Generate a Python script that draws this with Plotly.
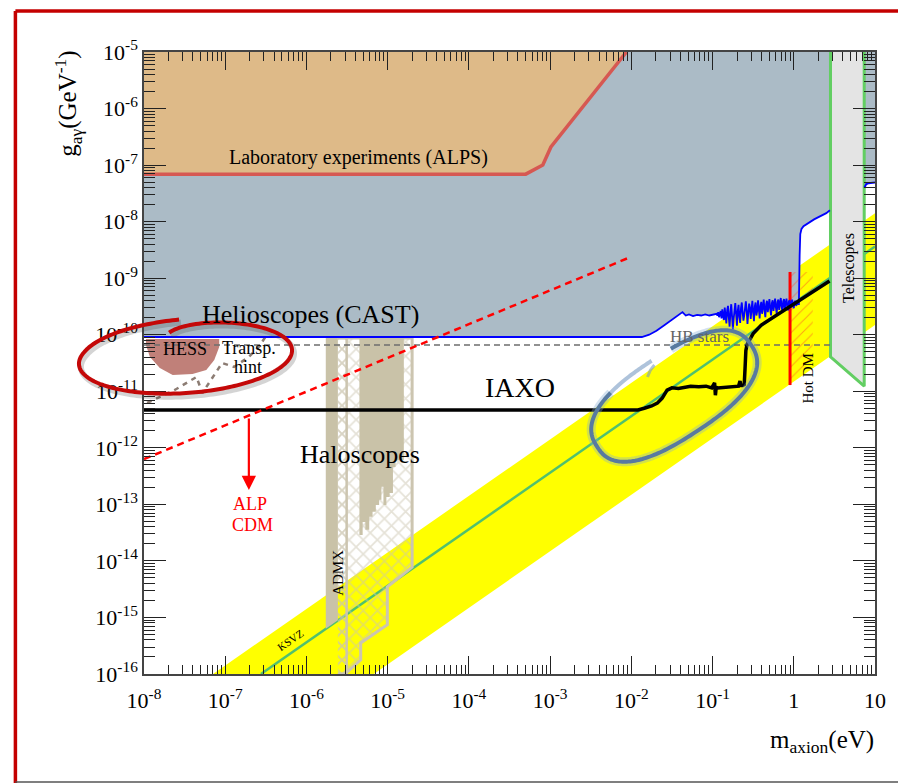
import numpy as np
import plotly.graph_objects as go

# ---------------- figure geometry ----------------
FIG_W, FIG_H = 898, 783
M_L, M_R, M_T, M_B = 144, 15, 52, 109
PLOT_W = FIG_W - M_L - M_R
PLOT_H = FIG_H - M_T - M_B
SERIF = "Liberation Serif, Times New Roman, serif"

# ---------------- data: log10(m_axion / eV), log10(g_ay / GeV^-1) ----------------
alps_logm = [-8.0, -3.30, -3.09, -2.99, -2.06]
alps_logg = [-7.16, -7.16, -7.00, -6.68, -5.00]

# CAST limit: flat part, turn-up, noisy gas phase, steep rise
cast_logm = [-8.0, -1.87, -1.78, -1.69, -1.59, -1.47, -1.40, -1.37, -1.33, -1.29, -1.24, -1.19,
             -1.14, -1.09, -1.04, -0.99,
             -0.95, -0.94, -0.93, -0.92, -0.91, -0.90, -0.89, -0.88, -0.87, -0.86,
             -0.85, -0.84, -0.83, -0.82, -0.81, -0.80, -0.79, -0.78, -0.77, -0.76,
             -0.75, -0.74, -0.73, -0.72, -0.71, -0.70, -0.69, -0.68, -0.67, -0.66,
             -0.65, -0.64, -0.63, -0.62, -0.61, -0.60, -0.59, -0.58, -0.57, -0.56,
             -0.55, -0.54, -0.53, -0.52, -0.51, -0.50, -0.49, -0.48, -0.47, -0.46,
             -0.45, -0.44, -0.43, -0.42, -0.41, -0.40, -0.39, -0.38, -0.37, -0.36,
             -0.35, -0.34, -0.33, -0.32, -0.31, -0.30, -0.29, -0.28, -0.27, -0.26,
             -0.25, -0.24, -0.23, -0.22, -0.21, -0.20, -0.19, -0.18, -0.17, -0.16,
             -0.15, -0.14, -0.13, -0.12, -0.11, -0.10, -0.09, -0.08, -0.07, -0.06,
             -0.05, -0.04, -0.03, -0.02, -0.01, 0.00, 0.01, 0.02, 0.03, 0.04,
             0.05, 0.063,
             0.072, 0.080, 0.095, 0.12, 0.25, 0.40, 0.445]
cast_logg = [-10.04, -10.04, -10.00, -9.93, -9.83, -9.70, -9.63, -9.60, -9.66, -9.64, -9.67, -9.65,
             -9.66, -9.64, -9.66, -9.65,
             -9.63, -9.66, -9.60, -9.69, -9.62, -9.58, -9.71, -9.55, -9.66, -9.74,
             -9.52, -9.63, -9.80, -9.57, -9.49, -9.70, -9.86, -9.60, -9.46, -9.67,
             -9.91, -9.72, -9.50, -9.44, -9.63, -9.84, -9.58, -9.47, -9.69, -9.79,
             -9.53, -9.43, -9.60, -9.75, -9.66, -9.48, -9.41, -9.58, -9.81, -9.62,
             -9.45, -9.52, -9.72, -9.55, -9.40, -9.61, -9.76, -9.50, -9.43, -9.66,
             -9.58, -9.39, -9.54, -9.71, -9.49, -9.42, -9.63, -9.52, -9.38, -9.57,
             -9.69, -9.46, -9.40, -9.60, -9.50, -9.37, -9.55, -9.66, -9.44, -9.39,
             -9.58, -9.47, -9.36, -9.52, -9.63, -9.42, -9.38, -9.56, -9.45, -9.35,
             -9.50, -9.60, -9.41, -9.37, -9.54, -9.44, -9.36, -9.49, -9.57, -9.41,
             -9.39, -9.52, -9.44, -9.38, -9.48, -9.53, -9.42, -9.40, -9.49, -9.44,
             -9.46, -9.46,
             -8.60, -8.22, -8.13, -8.08, -7.96, -7.85, -7.80]

cast_hi_logm = [0.87, 0.89, 0.92, 1.0]
cast_hi_logg = [-7.40, -7.34, -7.32, -7.31]

iaxo_logm = [-8.0, -1.92, -1.84, -1.75, -1.68, -1.62, -1.56, -1.50, -1.42, -1.35, -1.27, -1.17,
             -1.08, -1.01, -0.975, -0.965, -0.955, -0.935, -0.80, -0.68, -0.662, -0.65, -0.63,
             -0.61, -0.60, -0.59, -0.575, -0.55, -0.50, -0.40, -0.25, -0.10, 0.05, 0.23, 0.44]
iaxo_logg = [-11.33, -11.33, -11.30, -11.26, -11.21, -11.12, -10.98, -10.94, -10.95, -10.93,
             -10.91, -10.92, -10.91, -10.94, -10.85, -11.07, -10.93, -10.94, -10.92, -10.91,
             -10.82, -10.90, -10.90, -10.88, -10.60, -10.28, -10.17, -10.10, -9.98, -9.83,
             -9.69, -9.55, -9.42, -9.26, -9.05]

alp_cdm_logm = [-8.0, -2.0]
alp_cdm_logg = [-12.20, -8.62]

hb_logm = [-8.0, 0.452]
hb_logg = [-10.18, -10.18]

telescope_logm = [0.452, 0.452, 0.867, 0.867]
telescope_logg = [-5.0, -10.39, -10.91, -5.0]

hotdm_logm = [-0.046, -0.046]
hotdm_logg = [-8.89, -10.89]
hotdm_hatch_logm = [-0.046, 0.234, 0.234, -0.046]
hotdm_hatch_logg = [-8.89, -8.89, -10.45, -10.89]

band_logm = [-7.15, 1.0, 1.0, -5.17]
band_logg = [-16.0, -7.85, -9.83, -16.0]

ksvz_logm = [-6.56, 1.0]
ksvz_logg = [-16.0, -8.44]

hess_logm = [-7.976, -7.074, -7.074, -7.135, -7.233, -7.403, -7.647, -7.805, -7.927, -7.976]
hess_logg = [-10.075, -10.075, -10.217, -10.446, -10.623, -10.694, -10.712, -10.588, -10.393, -10.181]

hint_logm = [-7.963, -7.622, -7.354, -7.281, -7.160, -7.038, -6.892, -6.709, -6.587, -6.490]
hint_logg = [-11.207, -10.977, -10.747, -11.030, -10.765, -10.500, -10.570, -10.393, -10.217, -10.004]

admx_logm = [-5.762, -5.613, -5.613, -5.762]
admx_logg = [-10.06, -10.06, -15.05, -15.20]

halo_wide_logm = [-5.613, -4.699, -4.699, -5.004, -5.004, -5.332, -5.332, -5.527, -5.613]
halo_wide_logg = [-10.06, -10.06, -14.11, -14.46, -15.13, -15.45, -15.75, -16.0, -16.0]

halo_narrow_logm = [-5.613, -5.505, -5.505, -5.613]
halo_narrow_logg = [-10.06, -10.06, -16.0, -16.0]

halo_top_logg = -10.06
halo_edges_logm = [-5.348, -5.308, -5.275, -5.227, -5.186, -5.146, -5.105, -5.077, -5.052,
                   -5.016, -4.976, -4.935, -4.903, -4.801]
halo_floor_logg = [-13.54, -13.31, -13.45, -13.22, -13.13, -13.01, -12.92, -12.69, -13.01,
                   -12.87, -12.80, -12.34, -12.22]

x_tick_exp = list(range(-8, 2))
x_tick_text = ["10<sup>-8</sup>", "10<sup>-7</sup>", "10<sup>-6</sup>", "10<sup>-5</sup>",
               "10<sup>-4</sup>", "10<sup>-3</sup>", "10<sup>-2</sup>", "10<sup>-1</sup>", "1", "10"]
y_tick_exp = list(range(-16, -4))
y_tick_text = ["10<sup>%d</sup>" % e for e in y_tick_exp]

# ---------------- colours ----------------
TAN = "rgb(222,186,136)"
SLATE = "rgb(171,187,198)"
ALPS_EDGE = "rgb(214,88,82)"
HALO = "rgb(201,194,168)"
HALO_EDGE = "rgb(204,197,176)"
TEL_FILL = "rgb(228,228,228)"
TEL_EDGE = "rgb(98,206,98)"
KSVZ_GREEN = "rgb(80,192,110)"
HESS_FILL = "rgb(192,128,121)"
HINT = "rgb(140,124,115)"

fig = go.Figure()


def lin(v):
    return 10 ** np.asarray(v, dtype=float)


def area(logm, logg, color, line=None, pattern=None):
    kw = dict(x=lin(logm), y=lin(logg), mode="lines", fill="toself",
              fillcolor=color, hoverinfo="skip", showlegend=False)
    kw["line"] = line if line else dict(width=0)
    if pattern:
        kw["fillpattern"] = pattern
    fig.add_trace(go.Scatter(**kw))


def curve(logm, logg, color, width, dash="solid"):
    fig.add_trace(go.Scatter(x=lin(logm), y=lin(logg), mode="lines",
                             line=dict(color=color, width=width, dash=dash),
                             hoverinfo="skip", showlegend=False))


# axion model band and KSVZ line
area(band_logm, band_logg, "rgb(255,255,0)")
curve(ksvz_logm, ksvz_logg, KSVZ_GREEN, 2.5)

# haloscopes
hatch = dict(shape="x", fgcolor=HALO_EDGE, size=10, solidity=0.32)
area(halo_wide_logm, halo_wide_logg, "rgba(0,0,0,0)",
     line=dict(color=HALO_EDGE, width=3), pattern=hatch)
area(halo_narrow_logm, halo_narrow_logg, "rgba(0,0,0,0)",
     line=dict(color=HALO_EDGE, width=2.5), pattern=hatch)

solid_m = [halo_edges_logm[0]]
solid_g = [halo_top_logg]
for i, floor in enumerate(halo_floor_logg):
    solid_m += [halo_edges_logm[i], halo_edges_logm[i + 1]]
    solid_g += [floor, floor]
solid_m.append(halo_edges_logm[-1])
solid_g.append(halo_top_logg)
area(solid_m, solid_g, HALO)
area(admx_logm, admx_logg, HALO)

# helioscope (CAST) excluded region
area([-8.0] + cast_logm + [0.452, -8.0], [-5.0] + cast_logg + [-5.0, -5.0], SLATE)
area(cast_hi_logm + [1.0, 0.87], cast_hi_logg + [-5.0, -5.0], SLATE)

# laboratory experiments (ALPS)
area(alps_logm + [-8.0], alps_logg + [-5.0], TAN)
curve(alps_logm, alps_logg, ALPS_EDGE, 3.5)

# telescopes
area(telescope_logm, telescope_logg, TEL_FILL, line=dict(color=TEL_EDGE, width=3))

# HESS and transparency hint
area(hess_logm, hess_logg, HESS_FILL)
curve(hb_logm, hb_logg, "rgb(110,110,110)", 1.5, dash="6px,4px")
curve(hint_logm, hint_logg, HINT, 2.5, dash="5px,5px")

# hot dark matter
area(hotdm_hatch_logm, hotdm_hatch_logg, "rgba(0,0,0,0)",
     pattern=dict(shape="/", fgcolor="rgb(255,70,40)", size=8, solidity=0.12))
curve(hotdm_logm, hotdm_logg, "rgb(255,0,0)", 3)

# CAST limit, IAXO prospects, ALP cold dark matter line
curve(cast_logm, cast_logg, "rgb(0,0,255)", 1.8)
curve(cast_hi_logm, cast_hi_logg, "rgb(0,0,255)", 2)
curve(iaxo_logm, iaxo_logg, "black", 3.5)
curve(alp_cdm_logm, alp_cdm_logg, "rgb(255,0,0)", 2.5, dash="7px,5px")

# ---------------- axes ----------------
minor_vals = [k * 10.0 ** e for e in range(-16, 1) for k in range(2, 10)]
axis_common = dict(type="log", showgrid=False, zeroline=False, showline=True,
                   linecolor="#444", linewidth=1.5, mirror="allticks", ticks="inside",
                   tickcolor="#222", tickwidth=1.2,
                   tickfont=dict(family=SERIF, size=22, color="black"))
fig.update_xaxes(range=[-8, 1], tickmode="array", tickvals=[10.0 ** e for e in x_tick_exp],
                 ticktext=x_tick_text, ticklen=18, ticklabelstandoff=6,
                 minor=dict(tickmode="array", tickvals=[v for v in minor_vals if 1e-8 < v < 10],
                            ticks="inside", ticklen=9, tickcolor="#222", showgrid=False),
                 **axis_common)
fig.update_yaxes(range=[-16, -5], tickmode="array", tickvals=[10.0 ** e for e in y_tick_exp],
                 ticktext=y_tick_text, ticklen=22,
                 minor=dict(tickmode="array", tickvals=[v for v in minor_vals if 1e-16 < v < 1e-5],
                            ticks="inside", ticklen=11, tickcolor="#222", showgrid=False),
                 **axis_common)


# ---------------- highlight strokes and frame (layout pixels -> paper) ----------------
def to_paper(px, py):
    return (px - M_L) / PLOT_W, (FIG_H - M_B - py) / PLOT_H


def path_from(pts):
    out = []
    for i, (px, py) in enumerate(pts):
        x, y = to_paper(px, py)
        out.append(("M" if i == 0 else "L") + "%.5f,%.5f" % (x, y))
    return " ".join(out)


shapes = []

# red hand-drawn loop
t_deg = np.linspace(-101, 268, 220)
t = np.radians(t_deg)
r = 1.0 - 0.28 * np.exp(-(t_deg + 101) / 18.0) + 0.05 * np.clip((t_deg - 200) / 68.0, 0, None)
ex, ey = 108 * r * np.cos(t), 36 * r * np.sin(t)
phi = np.radians(-4)
red_pts = [(186 + x * np.cos(phi) - y * np.sin(phi), 357 + x * np.sin(phi) + y * np.cos(phi))
           for x, y in zip(ex, ey)]
shapes.append(dict(type="path", xref="paper", yref="paper", layer="above",
                   path=path_from([(x + 2, y + 3) for x, y in red_pts]),
                   line=dict(color="rgba(60,60,60,0.22)", width=6)))
shapes.append(dict(type="path", xref="paper", yref="paper", layer="above",
                   path=path_from(red_pts), line=dict(color="rgb(196,8,8)", width=4)))


# blue-grey hand-drawn loop
def superellipse(t_deg, a=93, b=42, n=2.5, cx=680, cy=396, theta=-33):
    tt = np.radians(t_deg)
    c, s = np.cos(tt), np.sin(tt)
    u = a * np.sign(c) * np.abs(c) ** (2 / n)
    v = b * np.sign(s) * np.abs(s) ** (2 / n)
    th = np.radians(theta)
    return [(cx + ui * np.cos(th) - vi * np.sin(th), cy + ui * np.sin(th) + vi * np.cos(th))
            for ui, vi in zip(u, v)]


dark = superellipse(np.linspace(-80, 241, 200))
light = superellipse(np.linspace(241, 270, 40))
shapes.append(dict(type="path", xref="paper", yref="paper", layer="above",
                   path=path_from(dark), line=dict(color="rgba(130,170,210,0.35)", width=9)))
shapes.append(dict(type="path", xref="paper", yref="paper", layer="above",
                   path=path_from(dark), line=dict(color="rgb(88,122,160)", width=4)))
shapes.append(dict(type="path", xref="paper", yref="paper", layer="above",
                   path=path_from(light), line=dict(color="rgba(120,155,195,0.6)", width=4)))
shapes.append(dict(type="path", xref="paper", yref="paper", layer="above",
                   path=path_from([(653, 377), (656, 370), (660, 365)]),
                   line=dict(color="rgba(120,155,195,0.6)", width=3)))

# outer frame
x0, y0 = to_paper(14, 11)
x1, y1 = to_paper(FIG_W + 10, 782)
shapes.append(dict(type="line", xref="paper", yref="paper", x0=x0, x1=x0, y0=y1 - 0.01, y1=y0,
                   line=dict(color="rgb(196,0,0)", width=3.5)))
shapes.append(dict(type="line", xref="paper", yref="paper", x0=x0, x1=x1, y0=y0, y1=y0,
                   line=dict(color="rgb(196,0,0)", width=3.5)))
shapes.append(dict(type="line", xref="paper", yref="paper", x0=x0, x1=x1, y0=y1, y1=y1,
                   line=dict(color="#555", width=1.5)))


# ---------------- text ----------------
def label(logm, logg, text, size, color="black", angle=0, **kw):
    return dict(x=logm, y=logg, xref="x", yref="y", text=text, showarrow=False,
                textangle=angle, xanchor="center", yanchor="middle",
                font=dict(family=SERIF, size=size, color=color), **kw)


annotations = [
    label(-5.357, -6.857, "Laboratory experiments (ALPS)", 20),
    label(-5.954, -9.651, "Helioscopes (CAST)", 26),
    label(-3.372, -10.942, "IAXO", 28),
    label(-5.345, -12.126, "Haloscopes", 26),
    label(-7.501, -10.252, "HESS", 18),
    label(-6.709, -10.240, "Transp.", 18),
    label(-6.720, -10.575, "hint", 18),
    label(-1.155, -10.04, "HB stars", 17, color="rgb(100,100,100)"),
    label(0.68, -8.82, "Telescopes", 16, angle=-90),
    label(0.17, -10.782, "Hot DM", 15, angle=-90),
    label(-5.613, -14.213, "ADMX", 15, angle=-90),
    label(-6.197, -15.40, "KSVZ", 11, angle=-34.6),
    label(-6.697, -13.00, "ALP", 18, color="rgb(255,0,0)"),
    label(-6.660, -13.36, "CDM", 18, color="rgb(255,0,0)"),
    dict(x=-6.709, y=-12.745, ax=-6.709, ay=-11.454, xref="x", yref="y", axref="x", ayref="y",
         text="", showarrow=True, arrowhead=2, arrowsize=1.3, arrowwidth=2.2,
         arrowcolor="rgb(255,0,0)"),
]

tx, ty = to_paper(67, 104)
annotations.append(dict(x=tx, y=ty, xref="paper", yref="paper", showarrow=False, textangle=-90,
                        xanchor="center", yanchor="middle",
                        text="g<sub>aγ</sub>(GeV<sup>-1</sup>)",
                        font=dict(family=SERIF, size=25, color="black")))
tx, ty = to_paper(884, 741)
annotations.append(dict(x=tx, y=ty, xref="paper", yref="paper", showarrow=False,
                        xanchor="right", yanchor="middle", text="m<sub>axion</sub>(eV)",
                        font=dict(family=SERIF, size=25, color="black")))

fig.update_layout(width=FIG_W, height=FIG_H,
                  margin=dict(l=M_L, r=M_R, t=M_T, b=M_B, pad=0),
                  paper_bgcolor="white", plot_bgcolor="white",
                  shapes=shapes, annotations=annotations, showlegend=False)

fig.write_html("out.html")
